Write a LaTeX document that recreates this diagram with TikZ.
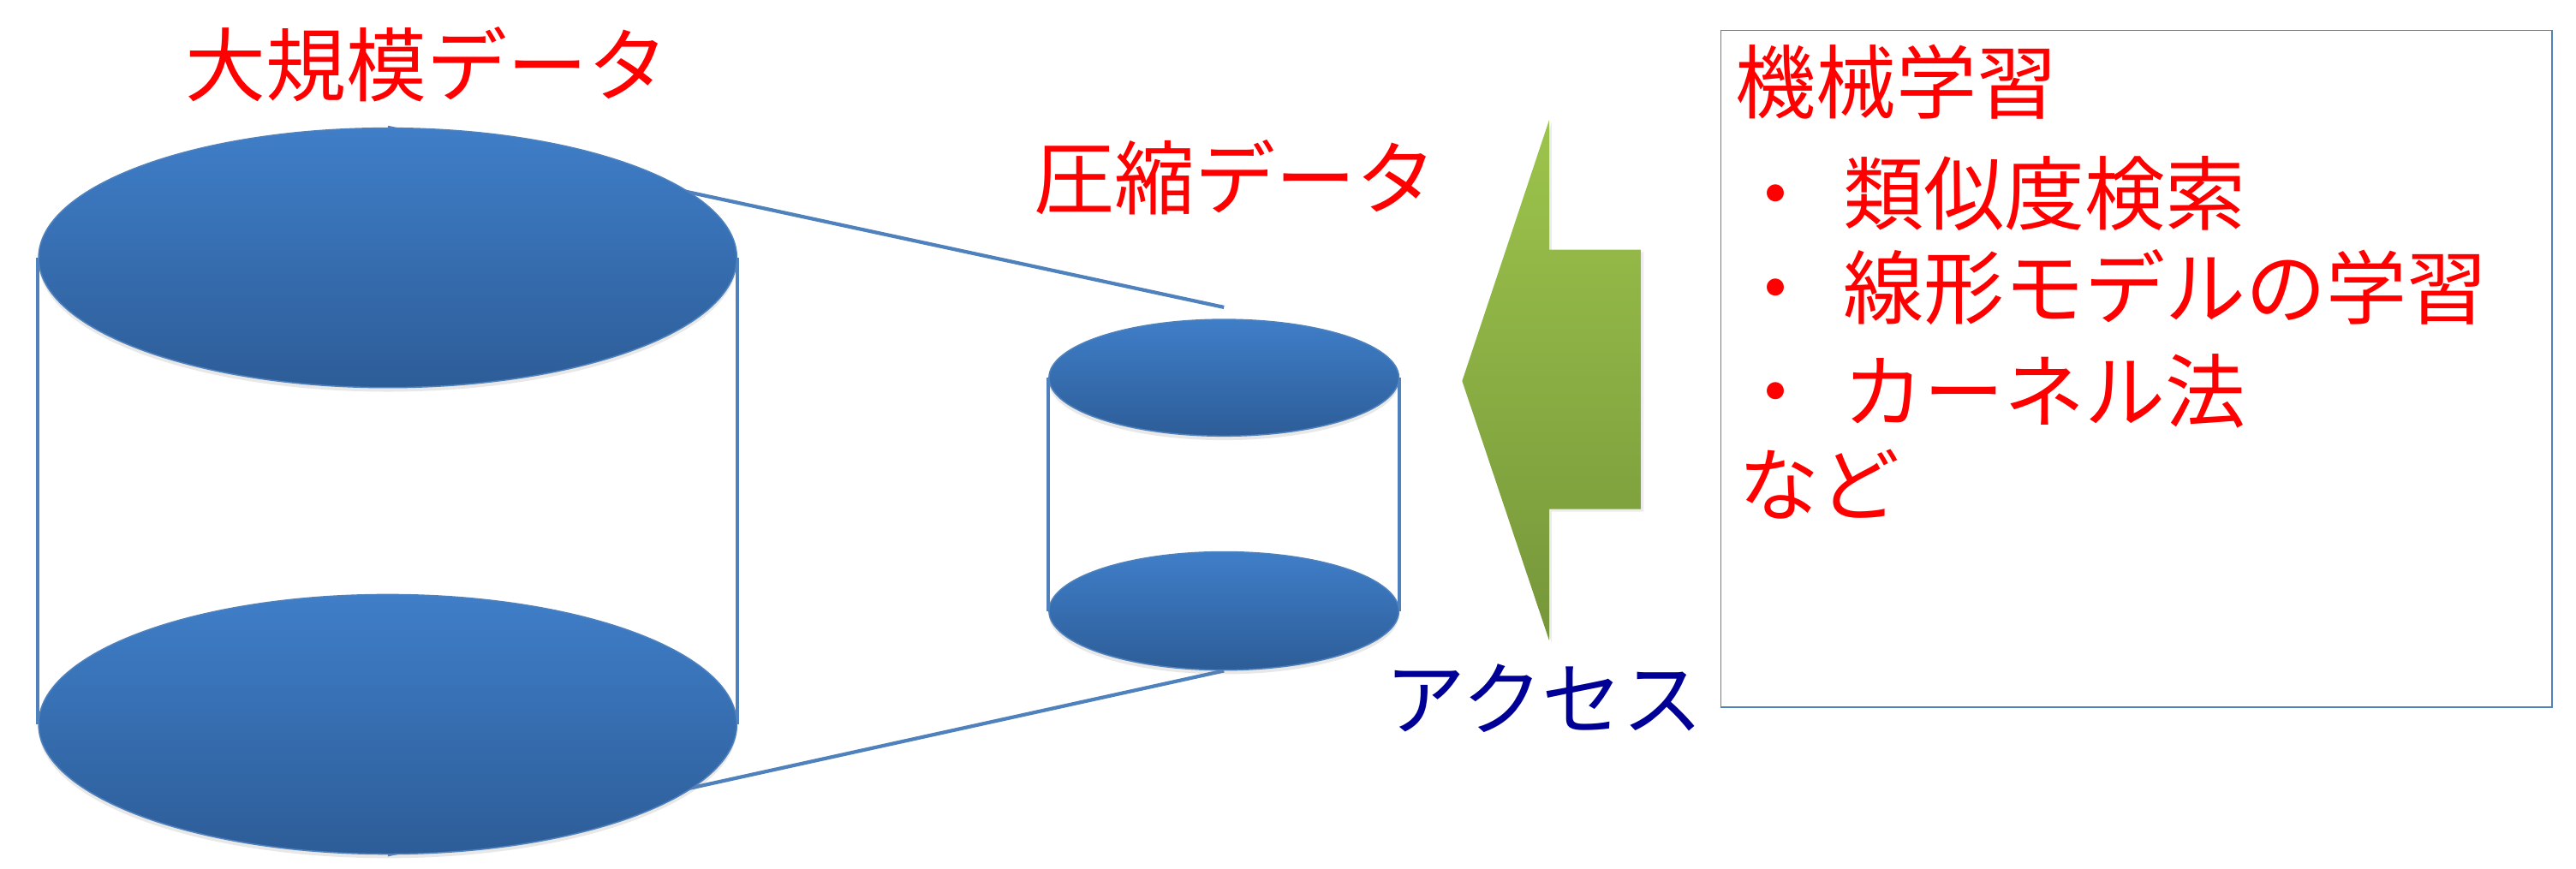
\documentclass[tikz,border=0pt]{standalone}
\usepackage{fontspec}
\newfontfamily\jp{Noto Sans CJK JP}
\usetikzlibrary{shapes.geometric,calc,shadows}
\definecolor{cylblue}{RGB}{79,129,189}
\definecolor{ellTop}{RGB}{63,126,200}
\definecolor{ellBot}{RGB}{45,93,152}
\definecolor{arrTop}{RGB}{157,196,76}
\definecolor{arrBot}{RGB}{118,150,58}
\definecolor{navyblue}{RGB}{0,0,150}
\pgfdeclarelayer{bg}
\pgfsetlayers{bg,main}
\begin{document}
\begin{tikzpicture}[x=1pt,y=1pt,
  disk/.style={ellipse, inner sep=0pt, top color=ellTop, bottom color=ellBot,
    draw=cylblue, line width=0.8pt,
    drop shadow={opacity=0.18, shadow xshift=0pt, shadow yshift=-2.5pt}},
  side/.style={draw=cylblue, line width=2.2pt},
  lbl/.style={inner sep=0pt, font=\jp\fontsize{49}{60}\selectfont}]
\useasboundingbox (0,0) rectangle (1568,529);

% cylinders
\node[disk, minimum width=425, minimum height=158] (bigtop) at (236,372) {};
\node[disk, minimum width=425, minimum height=158] (bigbot) at (236,88) {};
\node[disk, minimum width=213, minimum height=71] (smtop) at (745,299) {};
\node[disk, minimum width=213, minimum height=72] (smbot) at (745,157) {};
\coordinate (zt) at ($(smtop.north)+(0,7)$);

\begin{pgfonlayer}{bg}
  \draw[side] (bigtop.west) -- (bigbot.west);
  \draw[side] (bigtop.east) -- (bigbot.east);
  \draw[side] (smtop.west) -- (smbot.west);
  \draw[side] (smtop.east) -- (smbot.east);
  \draw[side] (bigtop.north) -- (zt);
  \draw[side] (bigbot.south) -- (smbot.south);
\end{pgfonlayer}

% labels
\node[lbl, red] (lbig) at (260,490) {大規模データ};
\node[lbl, red] (lsmall) at (752,421) {圧縮データ};
\node[lbl, navyblue] (lacc) at (940,104) {アクセス};

% green arrow
\shade[top color=arrTop, bottom color=arrBot, drop shadow={opacity=0.15, shadow xshift=1.5pt, shadow yshift=-1.5pt}]
  (890,297) -- (943,456) -- (943,377) -- (999,377) -- (999,219) -- (943,219) -- (943,139) -- cycle;

% box
\node[draw=cylblue, line width=0.9pt, minimum width=506, minimum height=412,
  anchor=north west, inner sep=0pt] (box) at (1047,511) {};
\node[lbl, red, anchor=west] (l1) at (1056,479) {機械学習};
\node[lbl, red, anchor=west] (l2) at (1056,411) {・\hspace{17pt}類似度検索};
\node[lbl, red, anchor=west] (l3) at (1056,354) {・\hspace{17pt}線形モデルの学習};
\node[lbl, red, anchor=west] (l4) at (1056,291) {・\hspace{17pt}カーネル法};
\node[lbl, red, anchor=west] (l5) at (1058,234) {など};
\end{tikzpicture}
\end{document}
